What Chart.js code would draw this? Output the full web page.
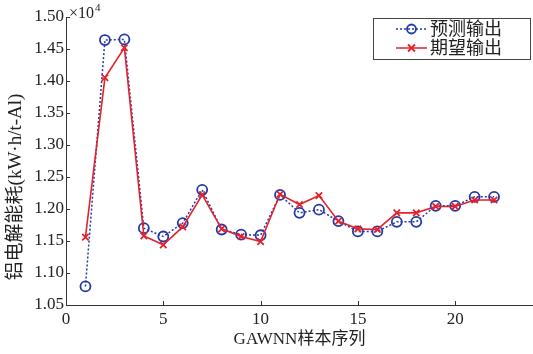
<!DOCTYPE html>
<html>
<head>
<meta charset="utf-8">
<script src="https://cdn.jsdelivr.net/npm/chart.js@4/dist/chart.umd.min.js"></script>
<style>
  html, body { margin: 0; padding: 0; background: #fff; }
  #wrap { width: 533px; height: 354px; }
</style>
</head>
<body>
<div id="wrap"><canvas id="chart" width="533" height="354"></canvas></div>
<script>
// values in units of 10^4 kW·h/t-Al
const samples = [1, 2, 3, 4, 5, 6, 7, 8, 9, 10, 11, 12, 13, 14, 15, 16, 17, 18, 19, 20, 21, 22];
const predicted = [1.079, 1.464, 1.465, 1.170, 1.157, 1.178, 1.230, 1.168, 1.160, 1.159, 1.222,
  1.194, 1.199, 1.181, 1.165, 1.165, 1.180, 1.180, 1.205, 1.205, 1.219, 1.219];
const expected = [1.156, 1.405, 1.452, 1.158, 1.144, 1.172, 1.222, 1.169, 1.157, 1.149, 1.223,
  1.207, 1.221, 1.181, 1.169, 1.168, 1.194, 1.194, 1.204, 1.204, 1.214, 1.214];
const xTicks = [0, 5, 10, 15, 20];
const yTicks = [1.05, 1.10, 1.15, 1.20, 1.25, 1.30, 1.35, 1.40, 1.45, 1.50];
const seriesNames = ['预测输出', '期望输出'];
const xTitle = 'GAWNN样本序列';
const yTitle = '铝电解能耗(kW·h/t-Al)';

const AXIS = '#333';
const BLUE = '#2339a6';
const RED = '#e3222c';
const FONT = "'Liberation Serif', 'Noto Sans CJK SC', serif";

const toPoints = vals => samples.map((s, i) => ({ x: s, y: vals[i] }));

// inward ticks, ×10^4 note, rotated y title and boxed legend
const decorations = {
  id: 'decorations',
  afterDraw(chart) {
    const { ctx, chartArea: ca, scales: { x, y } } = chart;
    ctx.save();
    ctx.strokeStyle = AXIS;
    ctx.lineWidth = 1;
    x.ticks.forEach(t => {
      const px = Math.round(x.getPixelForValue(t.value)) + 0.5;
      ctx.beginPath(); ctx.moveTo(px, ca.bottom); ctx.lineTo(px, ca.bottom - 4); ctx.stroke();
    });
    y.ticks.forEach(t => {
      const py = Math.round(y.getPixelForValue(t.value)) + 0.5;
      ctx.beginPath(); ctx.moveTo(ca.left, py); ctx.lineTo(ca.left + 4, py); ctx.stroke();
    });

    // exponent
    ctx.fillStyle = '#222';
    ctx.textBaseline = 'alphabetic';
    ctx.textAlign = 'left';
    ctx.font = '16px ' + FONT;
    ctx.fillText('×10', 69, 18);
    const w = ctx.measureText('×10').width;
    ctx.font = '11px ' + FONT;
    ctx.fillText('4', 69 + w + 1, 11);

    // y title
    ctx.save();
    ctx.translate(16, 187);
    ctx.rotate(-Math.PI / 2);
    ctx.font = '19px ' + FONT;
    ctx.textAlign = 'center';
    ctx.textBaseline = 'middle';
    ctx.fillText(yTitle, 0, 0);
    ctx.restore();

    // legend
    const bx = 373.5, by = 18.5, bw = 157, bh = 41;
    ctx.fillStyle = '#fff';
    ctx.fillRect(bx, by, bw, bh);
    ctx.strokeStyle = '#444';
    ctx.strokeRect(bx, by, bw, bh);
    const rows = [29, 48];
    const styles = [
      { color: BLUE, dash: [2, 2], marker: 'circle' },
      { color: RED, dash: [], marker: 'cross' }
    ];
    rows.forEach((ry, i) => {
      const s = styles[i];
      ctx.strokeStyle = s.color;
      ctx.lineWidth = 1.5;
      ctx.setLineDash(s.dash);
      ctx.beginPath(); ctx.moveTo(396, ry); ctx.lineTo(427, ry); ctx.stroke();
      ctx.setLineDash([]);
      ctx.lineWidth = 1.8;
      ctx.beginPath();
      if (s.marker === 'circle') {
        ctx.arc(411.5, ry, 4.5, 0, Math.PI * 2);
      } else {
        ctx.moveTo(408, ry - 3.5); ctx.lineTo(415, ry + 3.5);
        ctx.moveTo(408, ry + 3.5); ctx.lineTo(415, ry - 3.5);
      }
      ctx.stroke();
      ctx.fillStyle = '#222';
      ctx.font = '18px ' + FONT;
      ctx.textAlign = 'left';
      ctx.textBaseline = 'middle';
      ctx.fillText(seriesNames[i], 430, ry + 1);
    });
    ctx.restore();
  }
};

new Chart(document.getElementById('chart'), {
  type: 'line',
  data: {
    datasets: [
      {
        label: seriesNames[0],
        data: toPoints(predicted),
        borderColor: BLUE,
        borderWidth: 1.5,
        borderDash: [2, 2],
        pointStyle: 'circle',
        pointRadius: 5,
        pointBorderWidth: 1.8,
        pointBorderColor: BLUE,
        pointBackgroundColor: 'rgba(0,0,0,0)',
        tension: 0,
        order: 1
      },
      {
        label: seriesNames[1],
        data: toPoints(expected),
        borderColor: RED,
        borderWidth: 1.6,
        pointStyle: 'crossRot',
        pointRadius: 4.5,
        pointBorderWidth: 1.8,
        pointBorderColor: RED,
        tension: 0,
        order: 0
      }
    ]
  },
  options: {
    responsive: false,
    animation: false,
    devicePixelRatio: 1,
    layout: { autoPadding: false, padding: { top: 17, right: 0, bottom: 0, left: 0 } },
    plugins: { legend: { display: false }, tooltip: { enabled: false } },
    scales: {
      x: {
        type: 'linear',
        min: 0,
        max: 24,
        afterBuildTicks: s => { s.ticks = xTicks.map(v => ({ value: v })); },
        afterFit: s => { s.height = 49; s.paddingRight = 0; s.paddingLeft = 0; },
        grid: { display: false, drawTicks: false },
        border: { display: true, color: AXIS, width: 1 },
        ticks: { color: '#222', padding: 4, maxRotation: 0, font: { family: FONT, size: 17 } },
        title: {
          display: true,
          text: xTitle,
          color: '#222',
          padding: { top: 0, bottom: 4 },
          font: { family: FONT, size: 17 }
        }
      },
      y: {
        type: 'linear',
        min: 1.05,
        max: 1.50,
        afterBuildTicks: s => { s.ticks = yTicks.map(v => ({ value: v })); },
        afterFit: s => { s.width = 66; },
        grid: { display: false, drawTicks: false },
        border: { display: true, color: AXIS, width: 1 },
        ticks: {
          color: '#222',
          padding: 2,
          font: { family: FONT, size: 17 },
          callback: v => Number(v).toFixed(2)
        }
      }
    }
  },
  plugins: [decorations]
});
</script>
</body>
</html>
